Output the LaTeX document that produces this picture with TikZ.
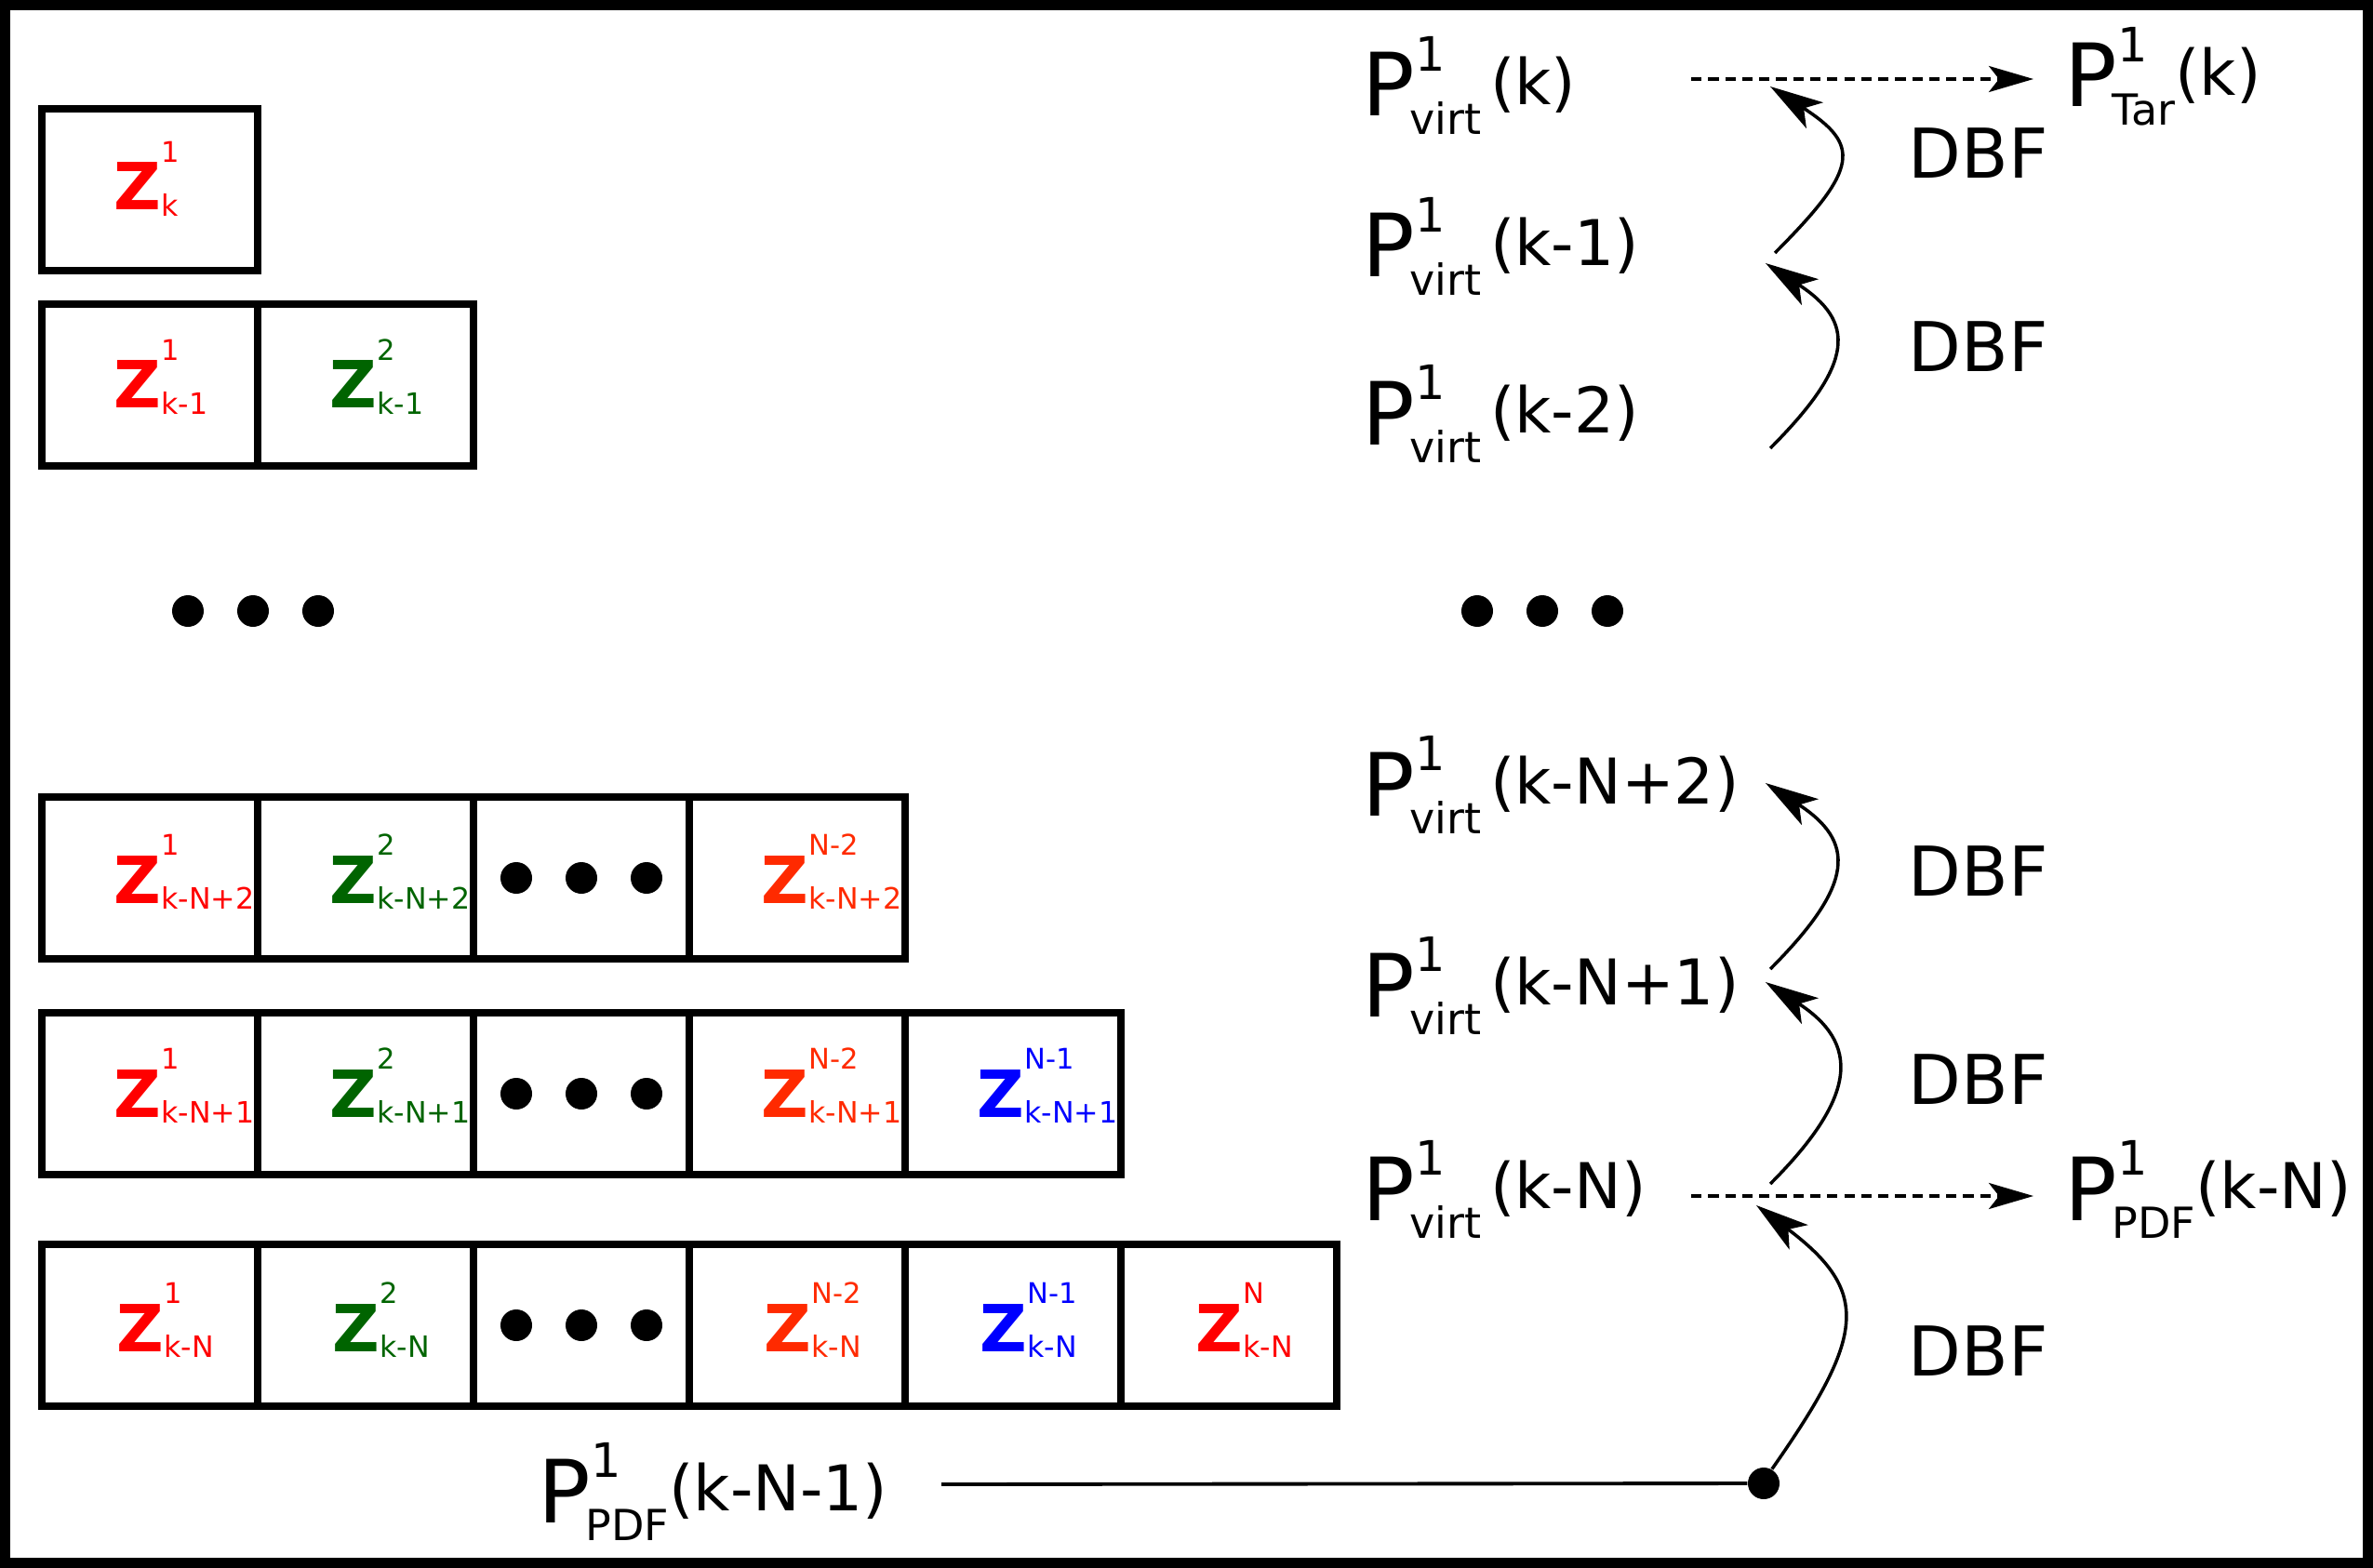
\documentclass[tikz,border=0pt]{standalone}
\usepackage{fontspec}
\setmainfont{DejaVu Sans}
\usepackage{tikz}
\usetikzlibrary{arrows.meta}

\definecolor{zred}{RGB}{255,0,0}
\definecolor{zgreen}{RGB}{0,100,0}
\definecolor{zorange}{RGB}{255,42,0}
\definecolor{zblue}{RGB}{0,0,255}

% P with superscript, subscript and argument
\newcommand{\plab}[4]{{\fontsize{26.7}{26.7}\selectfont P\rlap{\raisebox{0.52em}{\fontsize{14.5}{14.5}\selectfont #1}}\hspace{-0.06em}\raisebox{-0.21em}{\fontsize{13.1}{13.1}\selectfont #2}\hspace{#3}\raisebox{0.13em}{\fontsize{19.3}{19.3}\selectfont (#4)}}}
% bold Z with superscript and subscript
\newcommand{\zlab}[2]{{\fontsize{19.9}{19.9}\selectfont\bfseries Z\rlap{\raisebox{0.73em}{\fontsize{8.7}{8.7}\selectfont\mdseries #1}}\raisebox{-0.09em}{\fontsize{9}{9}\selectfont\mdseries #2}}}
% three big dots round a point
\newcommand{\dotrow}[1]{\foreach \dx in {-0.7,0,0.7} {\fill ([xshift=\dx cm]#1.center) circle (0.17);}}

\begin{document}
\begin{tikzpicture}[
    cell/.style={draw, line width=0.08cm, minimum width=2.32cm, minimum height=1.74cm, inner sep=0pt, outer sep=0pt},
    zname/.style={anchor=base west, inner sep=0pt},
    pname/.style={anchor=base west, inner sep=0pt},
    dbf/.style={anchor=base west, inner sep=0pt, font=\fontsize{21}{21}\selectfont},
    dbfarrow/.style={line width=1pt, -{Stealth[length=5.7mm,width=3.3mm,inset=1.4mm]}},
    dasharrow/.style={line width=1pt, dash pattern=on 3.2pt off 2pt, -{Stealth[length=4.8mm,width=2.8mm,inset=1.1mm]}}
]

\useasboundingbox (0,0) rectangle (25.51,-16.86);

% Frame
\draw[line width=0.11cm] (0.055,-0.055) rectangle (25.455,-16.805);

% Row k
\node[cell] (r1c1) at (1.61,-2.04) {};
\node[zname, zred] at ([shift={(0.77,-0.22)}]r1c1.west) {\zlab{1}{k}};

% Row k-1
\node[cell] (r2c1) at (1.61,-4.14) {};
\node[cell] (r2c2) at (3.93,-4.14) {};
\node[zname, zred] at ([shift={(0.77,-0.25)}]r2c1.west) {\zlab{1}{k-1}};
\node[zname, zgreen] at ([shift={(0.77,-0.25)}]r2c2.west) {\zlab{2}{k-1}};

% Dots between rows
\coordinate (ldots) at (2.72,-6.57);
\dotrow{ldots}

% Row k-N+2
\node[cell] (r3c1) at (1.61,-9.44) {};
\node[cell] (r3c2) at (3.93,-9.44) {};
\node[cell] (r3c3) at (6.25,-9.44) {};
\node[cell] (r3c4) at (8.57,-9.44) {};
\node[zname, zred] at ([shift={(0.77,-0.27)}]r3c1.west) {\zlab{1}{k-N+2}};
\node[zname, zgreen] at ([shift={(0.77,-0.27)}]r3c2.west) {\zlab{2}{k-N+2}};
\dotrow{r3c3}
\node[zname, zorange] at ([shift={(0.77,-0.27)}]r3c4.west) {\zlab{N-2}{k-N+2}};

% Row k-N+1
\node[cell] (r4c1) at (1.61,-11.76) {};
\node[cell] (r4c2) at (3.93,-11.76) {};
\node[cell] (r4c3) at (6.25,-11.76) {};
\node[cell] (r4c4) at (8.57,-11.76) {};
\node[cell] (r4c5) at (10.89,-11.76) {};
\node[zname, zred] at ([shift={(0.77,-0.25)}]r4c1.west) {\zlab{1}{k-N+1}};
\node[zname, zgreen] at ([shift={(0.77,-0.25)}]r4c2.west) {\zlab{2}{k-N+1}};
\dotrow{r4c3}
\node[zname, zorange] at ([shift={(0.77,-0.25)}]r4c4.west) {\zlab{N-2}{k-N+1}};
\node[zname, zblue] at ([shift={(0.77,-0.25)}]r4c5.west) {\zlab{N-1}{k-N+1}};

% Row k-N
\node[cell] (r5c1) at (1.61,-14.25) {};
\node[cell] (r5c2) at (3.93,-14.25) {};
\node[cell] (r5c3) at (6.25,-14.25) {};
\node[cell] (r5c4) at (8.57,-14.25) {};
\node[cell] (r5c5) at (10.89,-14.25) {};
\node[cell] (r5c6) at (13.21,-14.25) {};
\node[zname, zred] at ([shift={(0.8,-0.28)}]r5c1.west) {\zlab{1}{k-N}};
\node[zname, zgreen] at ([shift={(0.8,-0.28)}]r5c2.west) {\zlab{2}{k-N}};
\dotrow{r5c3}
\node[zname, zorange] at ([shift={(0.8,-0.28)}]r5c4.west) {\zlab{N-2}{k-N}};
\node[zname, zblue] at ([shift={(0.8,-0.28)}]r5c5.west) {\zlab{N-1}{k-N}};
\node[zname, zred] at ([shift={(0.8,-0.28)}]r5c6.west) {\zlab{N}{k-N}};

% Virtual powers
\node[pname] (pk) at (14.64,-1.25) {\plab{1}{virt}{0.1em}{k}};
\node[pname] (pk1) at (14.64,-2.98) {\plab{1}{virt}{0.1em}{k-1}};
\node[pname] (pk2) at (14.64,-4.78) {\plab{1}{virt}{0.1em}{k-2}};
\coordinate (rdots) at (16.58,-6.57);
\dotrow{rdots}
\node[pname] (pn2) at (14.64,-8.77) {\plab{1}{virt}{0.1em}{k-N+2}};
\node[pname] (pn1) at (14.64,-10.93) {\plab{1}{virt}{0.1em}{k-N+1}};
\node[pname] (pn) at (14.64,-13.12) {\plab{1}{virt}{0.1em}{k-N}};

% Outputs
\node[pname] (ptar) at (22.19,-1.15) {\plab{1}{Tar}{0em}{k}};
\node[pname] (ppdf) at (22.19,-13.12) {\plab{1}{PDF}{0em}{k-N}};
\node[pname] (pprev) at (5.78,-16.37) {\plab{1}{PDF}{0em}{k-N-1}};

% DBF labels
\node[dbf] (dbf1) at (20.51,-1.92) {DBF};
\node[dbf] (dbf2) at (20.51,-4.00) {DBF};
\node[dbf] (dbf3) at (20.51,-9.63) {DBF};
\node[dbf] (dbf4) at (20.51,-11.87) {DBF};
\node[dbf] (dbf5) at (20.51,-14.79) {DBF};

% Dashed outputs
\coordinate (d1s) at (18.18,-0.85);
\coordinate (d1e) at (21.86,-0.85);
\coordinate (d2s) at (18.18,-12.86);
\coordinate (d2e) at (21.86,-12.86);
\draw[dasharrow] (d1s) -- (d1e);
\draw[dasharrow] (d2s) -- (d2e);

% Input line and junction
\coordinate (lin) at (10.12,-15.96);
\node[circle, fill, inner sep=0pt, minimum size=0.34cm] (jdot) at (18.96,-15.95) {};
\draw[line width=1.1pt] (lin) -- (jdot);

% DBF steps
\coordinate (a1s) at (19.08,-2.72);
\coordinate (a1e) at (19.03,-0.93);
\coordinate (a2s) at (19.03,-4.82);
\coordinate (a2e) at (18.98,-2.83);
\coordinate (a3s) at (19.03,-10.42);
\coordinate (a3e) at (18.98,-8.42);
\coordinate (a4s) at (19.03,-12.73);
\coordinate (a4e) at (18.98,-10.56);
\coordinate (a5e) at (18.88,-12.96);
\draw[dbfarrow] (a1s) .. controls +(45:1.3) and +(-33:1.15) .. (a1e);
\draw[dbfarrow] (a2s) .. controls +(45:1.3) and +(-33:1.15) .. (a2e);
\draw[dbfarrow] (a3s) .. controls +(45:1.3) and +(-33:1.15) .. (a3e);
\draw[dbfarrow] (a4s) .. controls +(45:1.35) and +(-33:1.2) .. (a4e);
\draw[dbfarrow] (jdot.60) .. controls +(55:1.75) and +(-37:1.55) .. (a5e);

\end{tikzpicture}
\end{document}
